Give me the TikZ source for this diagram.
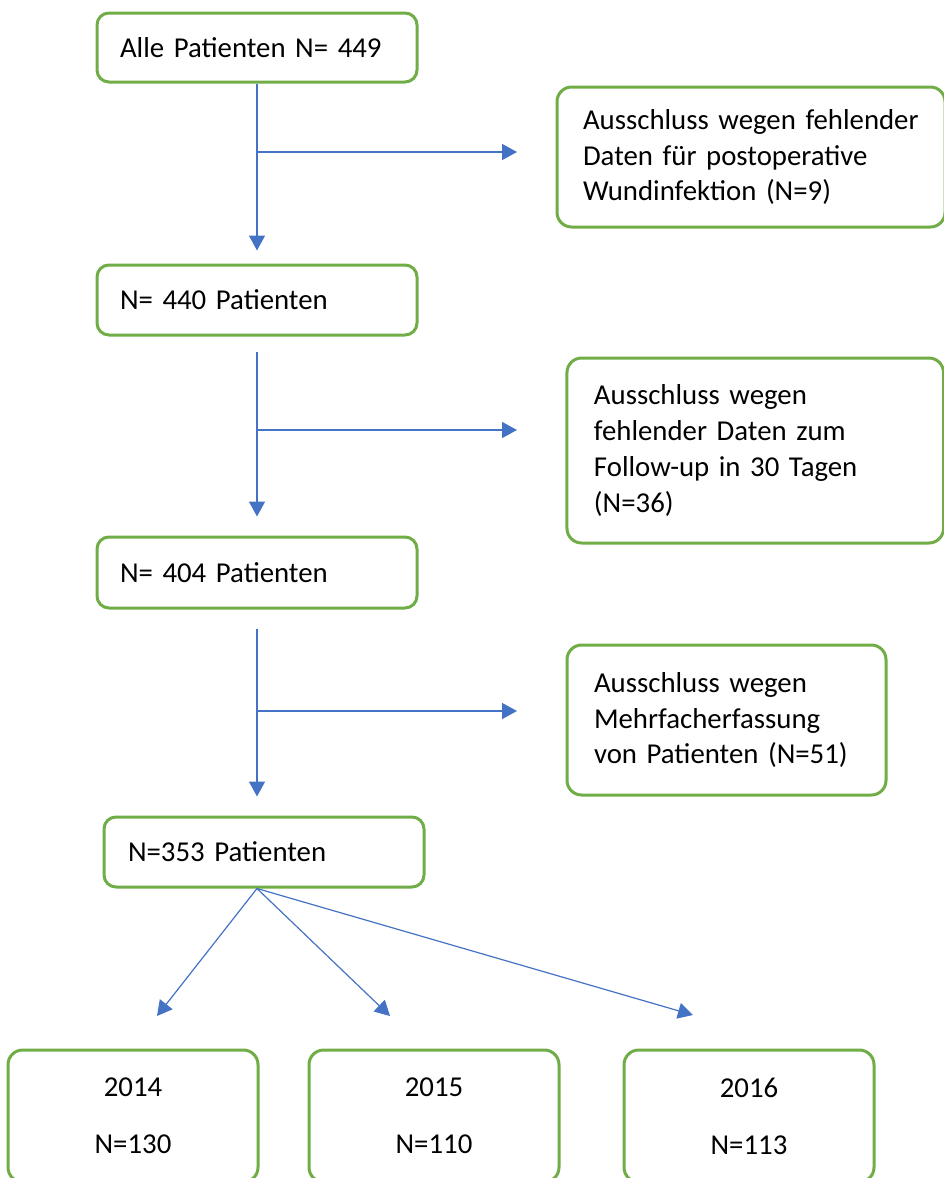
\documentclass[tikz,border=0pt]{standalone}
\usepackage{fontspec}
\setmainfont{Carlito}
\usetikzlibrary{arrows.meta}

\definecolor{boxgreen}{RGB}{112,173,71}
\definecolor{flowblue}{RGB}{68,114,196}

\tikzset{every picture/.style={line width=0.75pt}}
\tikzset{
	stagebox/.style={draw=boxgreen, line width=2.25pt, rounded corners=9pt, fill=white,
		align=left, inner xsep=17.25pt, inner ysep=0pt, text width=205.5pt,
		font=\fontsize{21.6}{26.9}\selectfont},
	exclbox/.style={stagebox, rounded corners=11pt, inner xsep=20.25pt},
	yearbox/.style={stagebox, rounded corners=11pt, align=center, inner xsep=0pt,
		text width=187.5pt, minimum height=99pt},
	flow/.style={draw=flowblue, line width=1.1pt, -{Triangle[length=11.25pt,width=12pt]}, flowblue},
	fork/.style={flow, line width=0.9pt}
}

\begin{document}
\begin{tikzpicture}[x=0.75pt,y=0.75pt,yscale=-1,xscale=1]
	\useasboundingbox (0,0) rectangle (944,1178);
	\clip (0,0) rectangle (944,1178);

	%Shape: Rectangle [main column]
	\node [stagebox, minimum height=51.75pt] (all) at (257,47.5) {Alle Patienten N= 449};
	\node [stagebox, minimum height=52.5pt] (n440) at (257,300) {N= 440 Patienten};
	\node [stagebox, minimum height=53.25pt] (n404) at (257,572.5) {N= 404 Patienten};
	\node [stagebox, minimum height=52.5pt, inner xsep=18pt, text width=204pt] (n353) at (264,852) {N=353 Patienten};

	%Shape: Rectangle [exclusions]
	\node [exclbox, inner xsep=19.5pt, text width=252pt, minimum height=105pt] (excl1) at (751,157) {Ausschluss wegen fehlender\\Daten für postoperative\\Wundinfektion (N=9)};
	\node [exclbox, text width=241.9pt, minimum height=138.75pt] (excl2) at (755.25,450.5) {Ausschluss wegen\\fehlender Daten zum\\Follow-up in 30 Tagen\\(N=36)};
	\node [exclbox, text width=198.75pt, minimum height=112.5pt] (excl3) at (726.5,720) {Ausschluss wegen\\Mehrfacherfassung\\von Patienten (N=51)};

	%Shape: Rectangle [years]
	\node [yearbox] (y2014) at (133,1116) {2014\\[16pt]N=130};
	\node [yearbox] (y2015) at (434,1116) {2015\\[16pt]N=110};
	\node [yearbox] (y2016) at (749,1116) {2016\\[16pt]N=113};

	% Branch points and free arrow ends
	\coordinate (br1) at (257,152);
	\coordinate (br1e) at (517,152);
	\coordinate (br2) at (257,430);
	\coordinate (br2e) at (517,430);
	\coordinate (br3) at (257,711);
	\coordinate (br3e) at (517,711);
	\coordinate (split) at (n353.south -| all.south);
	\coordinate (tip14) at (157,1016);
	\coordinate (tip15) at (390,1016);
	\coordinate (tip16) at (693,1015);

	% Arrows
	\draw [flow, shorten >=9.75pt] (all.south) -- (n440.north);
	\draw [flow, shorten <=11.25pt, shorten >=14.25pt] (n440.south) -- (n404.north);
	\draw [flow, shorten <=14.25pt, shorten >=14.25pt] (n404.south) -- (n404.south |- n353.north);
	\draw [flow] (br1) -- (br1e);
	\draw [flow] (br2) -- (br2e);
	\draw [flow] (br3) -- (br3e);
	\draw [fork] (split) -- (tip14);
	\draw [fork] (split) -- (tip15);
	\draw [fork] (split) -- (tip16);

\end{tikzpicture}
\end{document}
